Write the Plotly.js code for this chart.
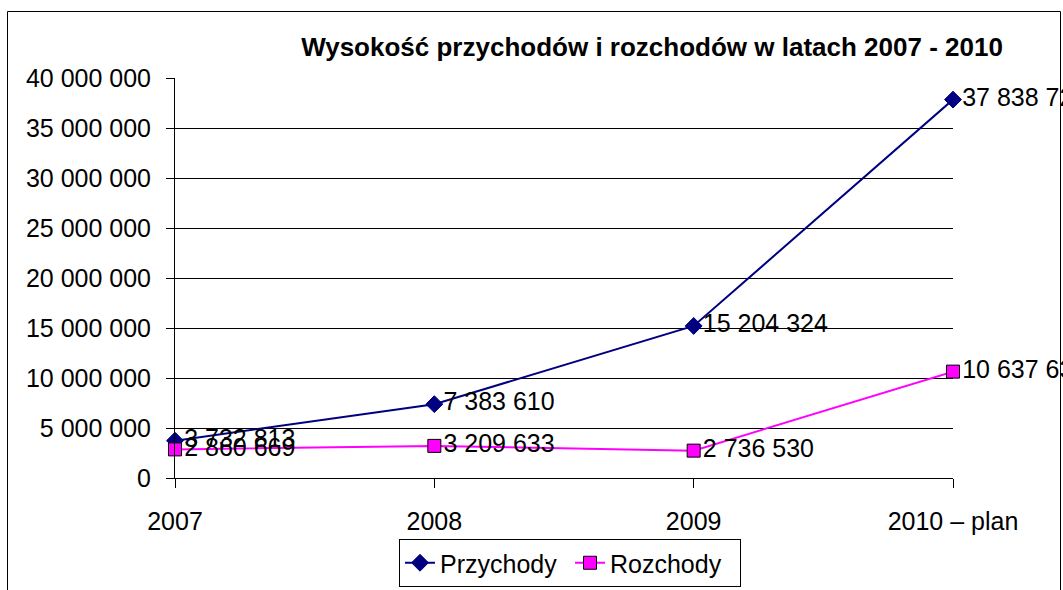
<!DOCTYPE html>
<html>
<head>
<meta charset="utf-8">
<script src="https://cdn.plot.ly/plotly-3.0.1.min.js"></script>
<style>
html,body{margin:0;padding:0;background:#fff;}
#chart{width:1063px;height:590px;}
</style>
</head>
<body>
<div id="chart"></div>
<script>
const categories = ["2007", "2008", "2009", "2010 – plan"];
const przychody = [3732813, 7383610, 15204324, 37838721];
const rozchody = [2860669, 3209633, 2736530, 10637630];
const seriesNames = ["Przychody", "Rozchody"];
const chartTitle = "Wysokość przychodów i rozchodów w latach 2007 - 2010";
const yTicks = [0, 5000000, 10000000, 15000000, 20000000, 25000000, 30000000, 35000000, 40000000];

const fmt = v => String(v).replace(/\B(?=(\d{3})+(?!\d))/g, " ");

const W = 1063, H = 590;
const mL = 175, mR = W - 953, mT = 78, mB = H - 478;
const pw = W - mL - mR, ph = H - mT - mB;
const px = x => (x - mL) / pw;
const py = y => (H - mB - y) / ph;

const font = {family: "Liberation Sans, Arial, sans-serif", size: 25, color: "#000"};

const traces = [
  {
    x: categories, y: przychody, name: seriesNames[0], type: "scatter", mode: "lines+markers+text",
    text: przychody.map(fmt), textposition: "middle right", cliponaxis: false,
    textfont: font,
    line: {color: "#000080", width: 2},
    marker: {symbol: "diamond", size: 13, color: "#000080", line: {color: "#000080", width: 1}}
  },
  {
    x: categories, y: rozchody, name: seriesNames[1], type: "scatter", mode: "lines+markers+text",
    text: rozchody.map(fmt), textposition: "middle right", cliponaxis: false,
    textfont: font,
    line: {color: "#FF00FF", width: 2},
    marker: {symbol: "square", size: 13, color: "#FF00FF", line: {color: "#000000", width: 1}}
  }
];

const layout = {
  width: W, height: H,
  margin: {l: mL, r: mR, t: mT, b: mB, pad: 0, autoexpand: false},
  paper_bgcolor: "#ffffff", plot_bgcolor: "rgba(0,0,0,0)",
  font: font,
  separators: ", ",
  showlegend: true,
  title: {
    text: "<b>" + chartTitle + "</b>",
    font: {family: "Liberation Sans, Arial, sans-serif", size: 26, color: "#000"},
    x: 652 / W, xanchor: "center", y: 1 - 47 / H, yanchor: "middle"
  },
  xaxis: {
    type: "category", range: [0, 3],
    showline: true, linecolor: "#000", linewidth: 1, mirror: false,
    showgrid: false, zeroline: false, automargin: false,
    ticks: "outside", ticklen: 9, tickcolor: "#000", tickwidth: 1,
    ticklabelstandoff: 12,
    tickfont: font
  },
  yaxis: {
    range: [0, 40000000], automargin: false,
    tickvals: yTicks, ticktext: yTicks.map(fmt),
    showline: true, linecolor: "#000", linewidth: 1, mirror: false,
    showgrid: true, gridcolor: "#000", gridwidth: 1,
    zeroline: false,
    ticks: "outside", ticklen: 8, tickcolor: "#000", tickwidth: 1,
    ticklabelstandoff: 10,
    tickfont: font
  },
  legend: {
    orientation: "h",
    x: px(399), xanchor: "left",
    y: py(539), yanchor: "top",
    bordercolor: "#000", borderwidth: 1,
    bgcolor: "#fff",
    font: font,
    entrywidth: 125, entrywidthmode: "pixels",
    itemwidth: 30
  },
  shapes: [
    {type: "rect", xref: "paper", yref: "paper", layer: "above",
     x0: px(7.5), x1: px(1060.5), y0: py(620), y1: py(11.5),
     fillcolor: "rgba(0,0,0,0)", line: {color: "#000", width: 1}}
  ]
};

Plotly.newPlot("chart", traces, layout, {displayModeBar: false, staticPlot: true});
</script>
</body>
</html>
